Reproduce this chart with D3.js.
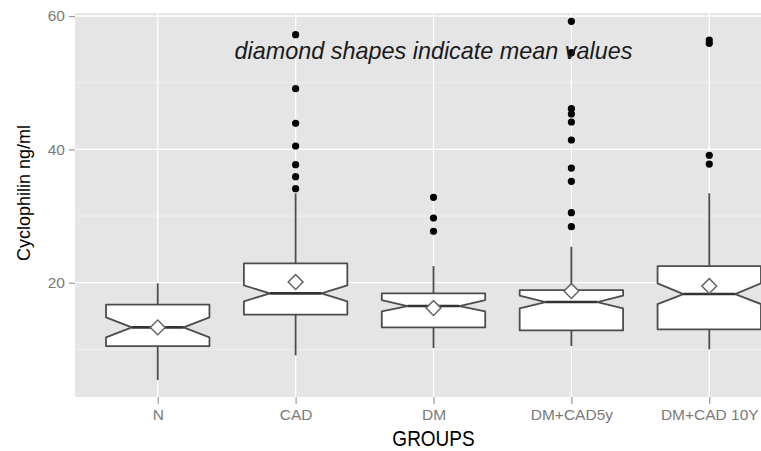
<!DOCTYPE html>
<html>
<head>
<meta charset="utf-8">
<script src="https://cdn.jsdelivr.net/npm/d3@7"></script>
<style>
  html, body { margin: 0; padding: 0; background: #fff; overflow: hidden; }
  svg { display: block; font-family: "Liberation Sans", Arial, Helvetica, sans-serif; }
</style>
</head>
<body>
<div id="chart"></div>
<script>
// values (ng/ml)
const groups      = ["N", "CAD", "DM", "DM+CAD5y", "DM+CAD 10Y"];
const whiskerLow  = [5.4, 9.1, 10.2, 10.5, 10.0];
const q1          = [10.5, 15.2, 13.3, 12.85, 13.0];
const medians     = [13.3, 18.4, 16.5, 17.1, 18.3];
const q3          = [16.7, 22.9, 18.4, 18.9, 22.5];
const whiskerHigh = [19.9, 33.4, 22.5, 25.4, 33.4];
const notchLow    = [11.8, 17.2, 15.7, 16.15, 16.8];
const notchHigh   = [14.8, 19.6, 17.4, 18.05, 19.9];
const means       = [13.3, 20.1, 16.2, 18.75, 19.5];
const outliers    = [
  [],
  [34.1, 35.9, 37.7, 40.5, 43.9, 49.1, 57.2],
  [27.7, 29.7, 32.8],
  [28.4, 30.5, 35.2, 37.2, 41.4, 44.1, 45.3, 46.1, 54.5, 59.2],
  [37.8, 39.1, 55.9, 56.4]
];
const yTicks      = [20, 40, 60];
const yMinor      = [10, 30, 50];

const width = 761, height = 451;
const panel = { left: 75, right: 792, top: 13, bottom: 397 };

const svg = d3.select("#chart").append("svg")
    .attr("width", width)
    .attr("height", height);

const x = d3.scalePoint()
    .domain(groups)
    .range([panel.left, panel.right])
    .padding(0.6);

const y = d3.scaleLinear()
    .domain([2.86, 60.45])
    .range([panel.bottom, panel.top]);

const boxW = x.step() * 0.75;

// panel background + grid
svg.append("rect")
    .attr("x", panel.left).attr("y", panel.top)
    .attr("width", panel.right - panel.left)
    .attr("height", panel.bottom - panel.top)
    .attr("fill", "#e5e5e5");

svg.append("g").selectAll("line")
    .data(yMinor)
    .join("line")
    .attr("x1", panel.left).attr("x2", panel.right)
    .attr("y1", d => y(d)).attr("y2", d => y(d))
    .attr("stroke", "#f2f2f2").attr("stroke-width", 0.8);

svg.append("g").selectAll("line")
    .data(yTicks)
    .join("line")
    .attr("x1", panel.left).attr("x2", panel.right)
    .attr("y1", d => y(d)).attr("y2", d => y(d))
    .attr("stroke", "#fff").attr("stroke-width", 1.3);

svg.append("g").selectAll("line")
    .data(groups)
    .join("line")
    .attr("x1", d => x(d)).attr("x2", d => x(d))
    .attr("y1", panel.top).attr("y2", panel.bottom)
    .attr("stroke", "#fff").attr("stroke-width", 1.3);

// axes (ggplot look: no domain line, grey ticks)
const yAxis = svg.append("g")
    .attr("transform", `translate(${panel.left},0)`)
    .call(d3.axisLeft(y).tickValues(yTicks).tickSize(6).tickPadding(4));
const xAxis = svg.append("g")
    .attr("transform", `translate(0,${panel.bottom})`)
    .call(d3.axisBottom(x).tickSize(7).tickPadding(5));

[yAxis, xAxis].forEach(ax => {
    ax.select(".domain").remove();
    ax.selectAll(".tick line").attr("stroke", "#9a9a9a").attr("stroke-width", 1.2);
    ax.selectAll(".tick text")
        .attr("fill", "#7a7a7a")
        .style("font-size", "15.5px")
        .style("font-family", "'Liberation Sans', Arial, sans-serif");
});

svg.append("text")
    .attr("transform", "translate(30,193) rotate(-90)")
    .attr("text-anchor", "middle")
    .style("font-size", "18px")
    .attr("fill", "#000")
    .text("Cyclophilin ng/ml");

svg.append("text")
    .attr("transform", `translate(${(panel.left + panel.right) / 2},446) scale(1,1.12)`)
    .attr("text-anchor", "middle")
    .style("font-size", "19px")
    .attr("fill", "#000")
    .text("GROUPS");

// boxes
const boxes = svg.append("g").selectAll("g")
    .data(groups.map((g, i) => ({
        g, lo: whiskerLow[i], q1: q1[i], med: medians[i], q3: q3[i], hi: whiskerHigh[i],
        nlo: notchLow[i], nhi: notchHigh[i], mean: means[i], out: outliers[i]
    })))
    .join("g");

boxes.append("line")
    .attr("x1", d => x(d.g)).attr("x2", d => x(d.g))
    .attr("y1", d => y(d.q3)).attr("y2", d => y(d.hi))
    .attr("stroke", "#4d4d4d").attr("stroke-width", 1.8);
boxes.append("line")
    .attr("x1", d => x(d.g)).attr("x2", d => x(d.g))
    .attr("y1", d => y(d.q1)).attr("y2", d => y(d.lo))
    .attr("stroke", "#4d4d4d").attr("stroke-width", 1.8);

boxes.append("path")
    .attr("d", d => {
        const x0 = x(d.g) - boxW / 2, x1 = x(d.g) + boxW / 2, ind = boxW * 0.25;
        return `M${x0},${y(d.q3)} L${x0},${y(d.nhi)} L${x0 + ind},${y(d.med)} L${x0},${y(d.nlo)} L${x0},${y(d.q1)}`
             + ` L${x1},${y(d.q1)} L${x1},${y(d.nlo)} L${x1 - ind},${y(d.med)} L${x1},${y(d.nhi)} L${x1},${y(d.q3)} Z`;
    })
    .attr("fill", "#fff")
    .attr("stroke", "#4d4d4d")
    .attr("stroke-width", 1.8)
    .attr("stroke-linejoin", "round");

boxes.append("line")
    .attr("x1", d => x(d.g) - boxW / 4).attr("x2", d => x(d.g) + boxW / 4)
    .attr("y1", d => y(d.med)).attr("y2", d => y(d.med))
    .attr("stroke", "#333").attr("stroke-width", 2.6);

boxes.selectAll("circle")
    .data(d => d.out.map(v => ({ g: d.g, v })))
    .join("circle")
    .attr("cx", d => x(d.g))
    .attr("cy", d => y(d.v))
    .attr("r", 3.6)
    .attr("fill", "#000");

const diamond = d3.symbol().type(d3.symbolSquare).size(110);
boxes.append("path")
    .attr("d", diamond)
    .attr("transform", d => `translate(${x(d.g)},${y(d.mean)}) rotate(45)`)
    .attr("fill", "#fff")
    .attr("stroke", "#666")
    .attr("stroke-width", 1.5);

// annotation
svg.append("text")
    .attr("x", x("DM"))
    .attr("y", y(55))
    .attr("dy", "0.42em")
    .attr("text-anchor", "middle")
    .style("font-size", "23.4px")
    .style("font-style", "italic")
    .attr("fill", "#1a1a1a")
    .text("diamond shapes indicate mean values");
</script>
</body>
</html>
